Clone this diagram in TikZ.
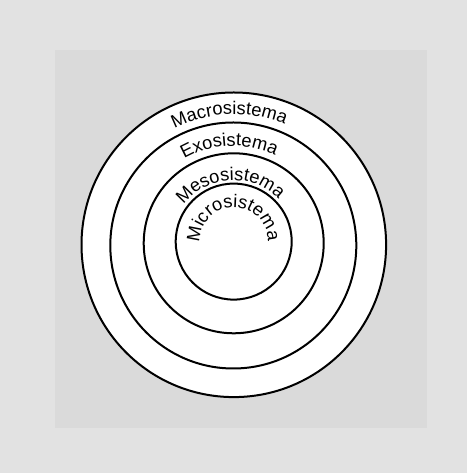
\documentclass[tikz,border=0pt]{standalone}
\usepackage{fontspec}
\setmainfont{Liberation Sans}
\usetikzlibrary{decorations.text}
\definecolor{bgouter}{HTML}{E2E2E2}
\definecolor{bginner}{HTML}{DADADA}
\newcommand{\ringfont}{\fontsize{18.3}{20}\selectfont}
\begin{document}
\begin{tikzpicture}[x=1pt,y=1pt,
  ring/.style={circle, draw=black, line width=2pt, fill=white, inner sep=0pt},
  arclabel/.style={decorate, decoration={text along path, text align=center, text={#1}}}]
\useasboundingbox (0,0) rectangle (467,473);
\fill[bgouter] (0,0) rectangle (467,473);
\fill[bginner] (55,45) rectangle (427,423);
\node[ring, minimum size=304.6pt] (macro) at (233.8,228.2) {};
\node[ring, minimum size=246pt] (exo) at (233.3,227.5) {};
\node[ring, minimum size=180pt] (meso) at (233.7,229.7) {};
\node[ring, minimum size=116pt] (micro) at (233.7,231.4) {};
\path[arclabel={|\ringfont|Macrosistema}] (233.8,228.2) ++(182:130.5) arc[start angle=182, end angle=2, radius=130.5];
\path[arclabel={|\ringfont|Exosistema}] (233.5,228) ++(182.5:99) arc[start angle=182.5, end angle=2.5, radius=99];
\path[arclabel={|\ringfont|Mesosistema}] (233.7,229.7) ++(183.5:63) arc[start angle=183.5, end angle=3.5, radius=63];
\path[arclabel={|\ringfont|Microsistema}] (233.7,231.4) ++(181:34) arc[start angle=181, end angle=1, radius=34];
\end{tikzpicture}
\end{document}
